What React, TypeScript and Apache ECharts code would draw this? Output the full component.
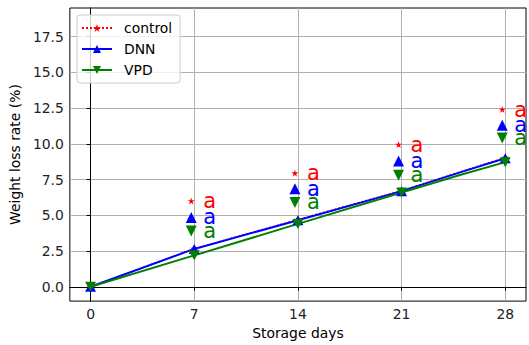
import React, { useEffect, useRef } from "react";
import * as echarts from "echarts";

const days = [0, 7, 14, 21, 25, 28];
const markerDays = [0, 7, 14, 21, 28];
const controlRate = [0, 2.66, 4.7, 6.72, 8.05, 9.03];
const dnnRate = [0, 2.65, 4.66, 6.69, 8.02, 8.99];
const vpdRate = [0, 2.2, 4.4, 6.6, 7.84, 8.72];

const annotDays = [7, 14, 21, 28];
const controlMark = [6.0, 7.95, 9.95, 12.4];
const dnnMark = [4.85, 6.85, 8.8, 11.3];
const vpdMark = [3.9, 5.9, 7.8, 10.4];
const controlLetters = ["a", "a", "a", "a"];
const dnnLetters = ["a", "a", "a", "a"];
const vpdLetters = ["a", "a", "a", "a"];

const xTicks = [0, 7, 14, 21, 28];
const yTicks = [0, 2.5, 5, 7.5, 10, 12.5, 15, 17.5];

const STAR =
  "path://M0,-1L0.2245,-0.309L0.951,-0.309L0.363,0.118L0.588,0.809L0,0.382L-0.588,0.809L-0.363,0.118L-0.951,-0.309L-0.2245,-0.309Z";
const TRI_DOWN = "path://M0,0L2,0L1,1.75Z";
const TRI_UP = "path://M0,1.75L2,1.75L1,0Z";

const RED = "#ff0000";
const BLUE = "#0000ff";
const GREEN = "#008000";
const FONT = "DejaVu Sans";
const FS = 13.9;

function lineData(vals: number[]) {
  return days.map((d, i) => ({
    value: [d, vals[i]],
    symbol: markerDays.includes(d) ? undefined : "none",
  }));
}

function annotSeries(name: string, vals: number[], letters: string[], color: string, symbol: string, size: number) {
  return {
    name,
    type: "scatter",
    data: annotDays.map((d, i) => [d, vals[i]]),
    symbol,
    symbolSize: size,
    symbolOffset: [-3, 0],
    itemStyle: { color, opacity: 1 },
    label: {
      show: true,
      position: "right",
      distance: 12 - size / 2,
      formatter: (p: any) => letters[p.dataIndex],
      color,
      fontSize: 21,
      fontFamily: FONT,
    },
    z: 3,
  };
}

export default function App() {
  const ref = useRef<HTMLDivElement>(null);
  useEffect(() => {
    const chart = echarts.init(ref.current!, null, { renderer: "svg" });
    chart.setOption({
      animation: false,
      textStyle: { fontFamily: FONT },
      grid: {
        left: 69,
        right: 3,
        top: 8,
        bottom: 40,
        show: true,
        borderColor: "#000",
        borderWidth: 1,
        backgroundColor: "transparent",
      },
      legend: {
        data: ["control", "DNN", "VPD"],
        orient: "vertical",
        left: 77,
        top: 15,
        itemWidth: 30,
        itemHeight: 10,
        itemGap: 7,
        padding: [6, 8, 6, 4],
        backgroundColor: "rgba(255,255,255,0.8)",
        borderColor: "#cccccc",
        borderWidth: 1,
        borderRadius: 3,
        selectedMode: false,
        textStyle: { fontSize: FS, color: "#000", fontFamily: FONT, padding: [0, 0, 0, 7] },
      },
      xAxis: {
        type: "value",
        min: -1.4,
        max: 29.4,
        name: "Storage days",
        nameLocation: "middle",
        nameGap: 21,
        nameTextStyle: { fontSize: FS, color: "#000", fontFamily: FONT },
        axisLine: { show: true, lineStyle: { color: "#000", width: 1 } },
        axisTick: { show: true, length: 4, customValues: xTicks, lineStyle: { color: "#000" } },
        axisLabel: { customValues: xTicks, fontSize: FS, color: "#222", margin: 6, fontFamily: FONT },
        splitLine: { show: true, lineStyle: { color: "#b0b0b0", width: 1 } },
      },
      yAxis: {
        type: "value",
        min: -1,
        max: 19.5,
        name: "Weight loss rate (%)",
        nameLocation: "middle",
        nameGap: 40,
        nameTextStyle: { fontSize: FS, color: "#000", fontFamily: FONT },
        axisLine: { show: true, lineStyle: { color: "#000", width: 1 } },
        axisTick: { show: true, length: 4, customValues: yTicks, lineStyle: { color: "#000" } },
        axisLabel: {
          customValues: yTicks,
          fontSize: FS,
          color: "#222",
          margin: 6,
          fontFamily: FONT,
          formatter: (v: number) => v.toFixed(1),
        },
        splitLine: { show: true, lineStyle: { color: "#b0b0b0", width: 1 } },
      },
      series: [
        {
          name: "control",
          type: "line",
          data: lineData(controlRate),
          symbol: STAR,
          symbolSize: 8,
          color: RED,
          lineStyle: { color: RED, width: 1.5, type: [2, 2] },
          itemStyle: { color: RED },
          z: 2,
        },
        {
          name: "DNN",
          type: "line",
          data: lineData(dnnRate),
          symbol: TRI_UP,
          symbolSize: [11, 10],
          color: BLUE,
          lineStyle: { color: BLUE, width: 2 },
          itemStyle: { color: BLUE },
          z: 2,
        },
        {
          name: "VPD",
          type: "line",
          data: lineData(vpdRate),
          symbol: TRI_DOWN,
          symbolSize: [11, 10],
          color: GREEN,
          lineStyle: { color: GREEN, width: 2 },
          itemStyle: { color: GREEN },
          z: 2,
        },
        annotSeries("controlSig", controlMark, controlLetters, RED, STAR, 7),
        annotSeries("dnnSig", dnnMark, dnnLetters, BLUE, TRI_UP, 11),
        annotSeries("vpdSig", vpdMark, vpdLetters, GREEN, TRI_DOWN, 11),
      ],
    });
    return () => chart.dispose();
  }, []);
  return <div ref={ref} style={{ width: 529, height: 345, position: "absolute", left: 0, top: 0 }} />;
}
